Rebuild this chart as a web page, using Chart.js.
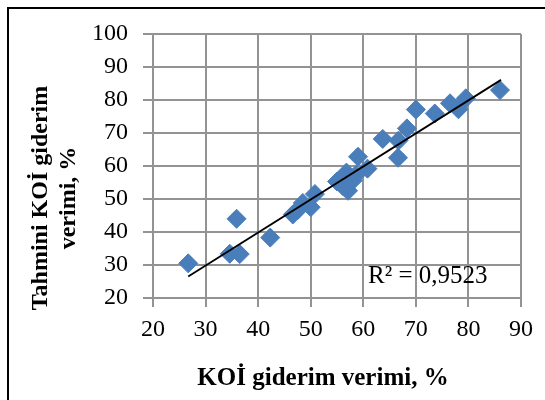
<!DOCTYPE html>
<html>
<head>
<meta charset="utf-8">
<script src="https://cdn.jsdelivr.net/npm/chart.js@4/dist/chart.umd.min.js"></script>
<style>
  html, body { margin: 0; padding: 0; background: #fff; }
  #wrap { position: relative; width: 545px; height: 400px; }
</style>
</head>
<body>
<div id="wrap"><canvas id="c" width="545" height="400"></canvas></div>
<script>
// Measured vs. predicted COD removal efficiency (%)
const measuredX = [26.7, 34.6, 35.9, 36.5, 42.3, 46.6, 47.5, 48.5, 50.0, 50.8,
                   55.0, 56.2, 56.8, 57.1, 58.0, 58.6, 59.0, 60.8, 63.7, 66.6,
                   66.7, 68.3, 70.0, 73.6, 76.5, 78.1, 79.5, 86.0];
const predictedY = [30.5, 33.4, 44.0, 33.3, 38.3, 45.3, 46.6, 48.8, 47.5, 51.5,
                    55.3, 53.8, 58.0, 52.5, 55.6, 57.3, 62.8, 59.2, 68.2, 62.5,
                    67.7, 71.4, 77.1, 75.9, 79.0, 77.2, 80.5, 83.0];

// Linear trend line end points
const trendX = [26.7, 86.2];
const trendY = [26.5, 86.1];

const xTicks = [20, 30, 40, 50, 60, 70, 80, 90];
const yTicks = [20, 30, 40, 50, 60, 70, 80, 90, 100];

const xTitle = 'KOİ giderim verimi, %';
const yTitle = ['Tahmini KOİ giderim', 'verimi, %'];
const r2Label = 'R² = 0,9523';

const SERIF = '"Liberation Serif", "Times New Roman", serif';
const GRID = '#939393';

const decorations = {
  id: 'decorations',
  beforeDraw(chart) {
    const ctx = chart.ctx;
    ctx.save();
    ctx.fillStyle = '#fff';
    ctx.fillRect(0, 0, chart.width, chart.height);
    ctx.strokeStyle = '#000';
    ctx.lineWidth = 2;
    ctx.strokeRect(8, 8, chart.width + 40, chart.height + 40);
    ctx.restore();
  },
  afterDraw(chart) {
    const ctx = chart.ctx;
    const xs = chart.scales.x, ys = chart.scales.y;
    ctx.save();
    ctx.fillStyle = '#000';

    // x axis title
    ctx.font = 'bold 25px ' + SERIF;
    ctx.textAlign = 'center';
    ctx.textBaseline = 'alphabetic';
    ctx.fillText(xTitle, 323, 385);

    // y axis title, two rotated lines
    ctx.font = 'bold 24px ' + SERIF;
    ctx.save();
    ctx.translate(47, 198);
    ctx.rotate(-Math.PI / 2);
    ctx.fillText(yTitle[0], 0, 0);
    ctx.fillText(yTitle[1], 0, 28);
    ctx.restore();

    // coefficient of determination
    ctx.font = '25px ' + SERIF;
    ctx.textAlign = 'left';
    ctx.textBaseline = 'middle';
    ctx.fillText(r2Label, xs.getPixelForValue(60.9), ys.getPixelForValue(26.4));
    ctx.restore();
  }
};

new Chart(document.getElementById('c'), {
  type: 'scatter',
  data: {
    datasets: [
      {
        type: 'line',
        label: 'Doğrusal',
        data: trendX.map((x, i) => ({ x, y: trendY[i] })),
        borderColor: '#000',
        borderWidth: 1.8,
        pointRadius: 0,
        fill: false,
        order: 0
      },
      {
        label: 'Tahmini',
        data: measuredX.map((x, i) => ({ x, y: predictedY[i] })),
        pointStyle: 'rectRot',
        pointRadius: 9.5,
        backgroundColor: '#4a7ebb',
        borderColor: '#4a7ebb',
        borderWidth: 1,
        order: 1
      }
    ]
  },
  options: {
    responsive: false,
    animation: false,
    devicePixelRatio: 1,
    layout: { padding: { top: 34, right: 24, left: 0, bottom: 0 } },
    plugins: {
      legend: { display: false },
      tooltip: { enabled: false }
    },
    scales: {
      x: {
        type: 'linear',
        min: 20, max: 90,
        afterFit(s) { s.height = 102; },
        afterBuildTicks(s) { s.ticks = xTicks.map(v => ({ value: v })); },
        grid: { color: GRID, lineWidth: 2, tickLength: 9 },
        border: { color: GRID, width: 2 },
        ticks: { color: '#000', font: { family: SERIF, size: 24 }, padding: 8, maxRotation: 0 }
      },
      y: {
        type: 'linear',
        min: 20, max: 100,
        afterFit(s) { s.width = 153; },
        afterBuildTicks(s) { s.ticks = yTicks.map(v => ({ value: v })); },
        grid: { color: GRID, lineWidth: 2, tickLength: 10 },
        border: { color: GRID, width: 2 },
        ticks: { color: '#000', font: { family: SERIF, size: 24 }, padding: 15 }
      }
    }
  },
  plugins: [decorations]
});
</script>
</body>
</html>
